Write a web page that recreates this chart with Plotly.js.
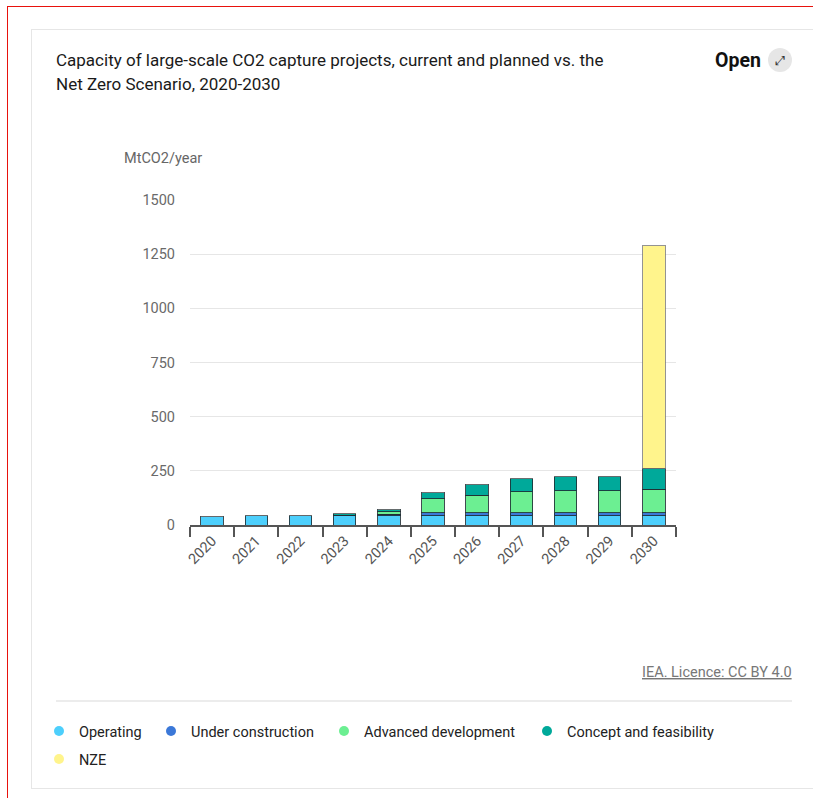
<!DOCTYPE html>
<html>
<head>
<meta charset="utf-8">
<script src="https://cdn.plot.ly/plotly-3.0.1.min.js"></script>
<style>
  html, body { margin: 0; padding: 0; background: #fff; width: 813px; height: 798px; overflow: hidden; }
  #frame { position: absolute; left: 7px; top: 6px; width: 830px; height: 820px; border: 1px solid #e8120c; box-sizing: border-box; }
  #card { position: absolute; left: 31px; top: 29px; width: 800px; height: 760px; border: 1px solid #e6e6e6; box-sizing: border-box; background: #fff; }
  #chart { position: absolute; left: 0; top: 0; width: 813px; height: 798px; }
</style>
</head>
<body>
<div id="frame"></div>
<div id="card"></div>
<div id="chart"></div>
<script>
const years = ['2020','2021','2022','2023','2024','2025','2026','2027','2028','2029','2030'];
const operating = [39, 45, 45, 44, 42, 43, 43, 43, 43, 43, 43];
const underConstruction = [0, 0, 0, 2, 8, 14, 14, 14, 14, 14, 14];
const advancedDevelopment = [0, 0, 0, 0, 12, 64, 80, 97, 101, 101, 108];
const conceptFeasibility = [0, 0, 0, 5, 10, 28, 52, 60, 68, 67, 98];
const nze = [0, 0, 0, 0, 0, 0, 0, 0, 0, 0, 1025];
const seriesNames = ['Operating', 'Under construction', 'Advanced development', 'Concept and feasibility', 'NZE'];
const seriesColors = ['#4dcffc', '#3b78d8', '#6cef92', '#00a99a', '#fff48c'];
const yTicks = [0, 250, 500, 750, 1000, 1250, 1500];
const titleLines = ['Capacity of large-scale CO2 capture projects, current and planned vs. the', 'Net Zero Scenario, 2020-2030'];

const seriesValues = [operating, underConstruction, advancedDevelopment, conceptFeasibility, nze];
const font = 'Roboto, "Liberation Sans", Arial, sans-serif';

// plot area geometry (pixels)
const L = 190, R = 676, T = 200, B = 525;
const px = v => (v - L) / (R - L);
const py = v => (B - v) / (B - T);

// legend item positions (left edge of the legend box, row top)
const legendPos = [[39, 715], [151, 715], [324, 715], [527, 715], [39, 743]];

const traces = [];
seriesValues.forEach((vals, i) => {
  traces.push({
    type: 'bar', x: years, y: vals, name: seriesNames[i], showlegend: false,
    marker: { color: seriesColors[i], line: { color: i === 4 ? 'rgba(120,120,120,0.8)' : 'rgba(30,45,50,0.85)', width: 1 } },
    hoverinfo: 'x+y+name'
  });
});
seriesNames.forEach((n, i) => {
  traces.push({
    type: 'scatter', mode: 'markers', x: [null], y: [null], name: n, showlegend: true,
    legend: i === 0 ? 'legend' : 'legend' + (i + 1),
    marker: { color: seriesColors[i], size: 10, symbol: 'circle' }
  });
});

const layout = {
  width: 813, height: 798,
  paper_bgcolor: 'rgba(0,0,0,0)', plot_bgcolor: 'rgba(0,0,0,0)',
  margin: { l: L, r: 813 - R, t: T, b: 798 - B, autoexpand: false },
  barmode: 'stack', bargap: 0.49,
  font: { family: font, color: '#333' },
  title: {
    text: titleLines[0],
    font: { family: font, size: 17, color: '#1a1a1a' },
    x: 56 / 813, xref: 'container', xanchor: 'left', y: 1 - 60 / 798, yref: 'container', yanchor: 'middle'
  },
  xaxis: {
    type: 'category', tickangle: -45, showgrid: false, showline: true, linecolor: '#555', linewidth: 1.5,
    ticks: 'outside', tickson: 'boundaries', ticklen: 10, tickcolor: '#555', tickwidth: 1.5,
    tickfont: { family: font, size: 14.5, color: '#555' }, fixedrange: true
  },
  yaxis: {
    range: [0, 1500], tickvals: yTicks, ticktext: yTicks.map(String), showline: false, zeroline: false,
    gridcolor: '#e6e6e6', gridwidth: 1, ticklabelstandoff: 14,
    tickfont: { family: font, size: 14.5, color: '#6a6a6a' }, fixedrange: true
  },
  annotations: [
    { text: titleLines[1], xref: 'paper', yref: 'paper', x: px(53.5), y: py(84), xanchor: 'left', yanchor: 'middle', showarrow: false, font: { family: font, size: 17, color: '#1a1a1a' } },
    { text: 'MtCO2/year', xref: 'paper', yref: 'paper', x: px(122), y: py(158), xanchor: 'left', yanchor: 'middle', showarrow: false, font: { family: font, size: 14.5, color: '#666' } },
    { text: '<b>Open</b>', xref: 'paper', yref: 'paper', x: px(713), y: py(60), xanchor: 'left', yanchor: 'middle', showarrow: false, font: { family: font, size: 19.5, color: '#111' } },
    { text: '⤢', xref: 'paper', yref: 'paper', x: px(780), y: py(60), xanchor: 'center', yanchor: 'middle', showarrow: false, font: { family: 'DejaVu Sans', size: 13, color: '#333' } },
    { text: '<u>IEA. Licence: CC BY 4.0</u>', xref: 'paper', yref: 'paper', x: px(794), y: py(672), xanchor: 'right', yanchor: 'middle', showarrow: false, font: { family: font, size: 14.5, color: '#777' } }
  ],
  shapes: [
    { type: 'circle', xref: 'paper', yref: 'paper', x0: px(768), x1: px(792), y0: py(72), y1: py(48), fillcolor: '#e6e6e6', line: { width: 0 }, layer: 'below' },
    { type: 'line', xref: 'paper', yref: 'paper', x0: px(56), x1: px(792), y0: py(701), y1: py(701), line: { color: '#e6e6e6', width: 1.5 } }
  ],
  hovermode: 'closest'
};

legendPos.forEach((p, i) => {
  const key = i === 0 ? 'legend' : 'legend' + (i + 1);
  layout[key] = {
    orientation: 'h', xref: 'paper', yref: 'paper', x: px(p[0]), xanchor: 'left', y: py(p[1]), yanchor: 'top',
    font: { family: font, size: 14.5, color: '#222' }, itemclick: false, itemdoubleclick: false,
    bgcolor: 'rgba(0,0,0,0)'
  };
});

Plotly.newPlot('chart', traces, layout, { displayModeBar: false, responsive: false });
</script>
</body>
</html>
